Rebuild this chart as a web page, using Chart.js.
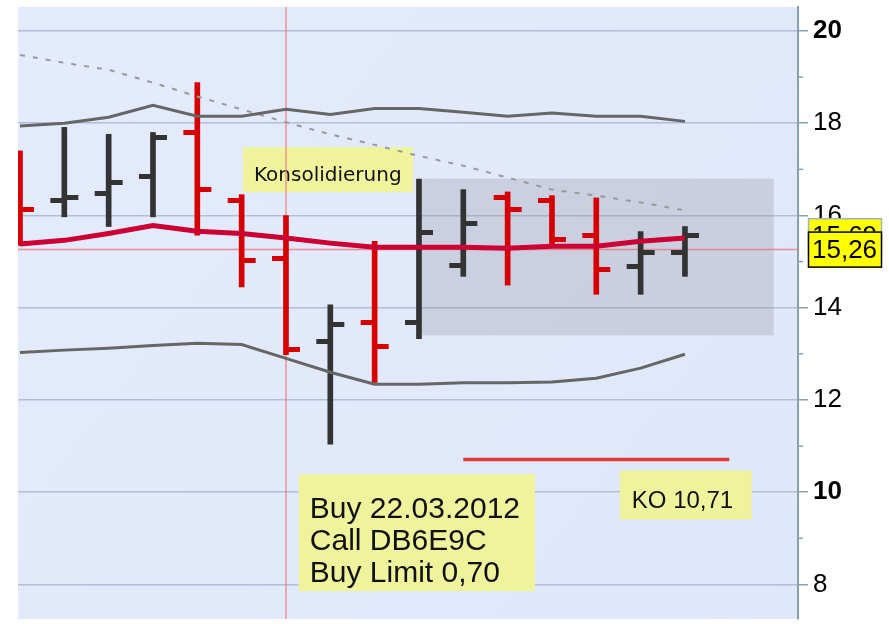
<!DOCTYPE html>
<html><head><meta charset="utf-8">
<script src="https://cdn.jsdelivr.net/npm/chart.js@4.4.1/dist/chart.umd.min.js"></script>
<style>html,body{margin:0;padding:0;background:#fff;}canvas{display:block}</style>
</head><body>
<canvas id="c" width="889" height="624"></canvas>
<script>
// ---- data ----
const opens  = [17.00, 16.32, 16.47, 16.84, 17.80, 16.32, 15.07, 13.26, 13.67, 13.67, 14.92, 16.40, 16.32, 15.57, 14.90, 15.20];
const highs  = [17.40, 17.91, 17.76, 17.80, 18.88, 16.45, 16.00, 14.06, 15.44, 16.79, 16.56, 16.51, 16.43, 16.38, 15.65, 15.76];
const lows   = [15.35, 15.97, 15.76, 15.97, 15.57, 14.45, 12.98, 11.04, 12.38, 13.33, 14.68, 14.49, 15.31, 14.29, 14.29, 14.68];
const closes = [16.13, 16.40, 16.71, 17.70, 16.56, 15.03, 13.09, 13.63, 13.15, 15.63, 15.82, 16.13, 15.48, 14.83, 15.20, 15.57];
const movingAvg = [15.38, 15.46, 15.61, 15.78, 15.66, 15.61, 15.51, 15.40, 15.31, 15.31, 15.31, 15.29, 15.33, 15.33, 15.44, 15.51];
const upperBand = [17.94, 18.00, 18.13, 18.39, 18.15, 18.15, 18.30, 18.19, 18.32, 18.32, 18.24, 18.15, 18.22, 18.15, 18.15, 18.04];
const lowerBand = [13.03, 13.08, 13.12, 13.18, 13.23, 13.20, 12.90, 12.60, 12.34, 12.34, 12.37, 12.37, 12.39, 12.47, 12.69, 12.99];
const longAvg   = [19.48, 19.31, 19.16, 18.88, 18.58, 18.30, 18.02, 17.76, 17.53, 17.29, 17.08, 16.82, 16.56, 16.43, 16.28, 16.11];
const yTickValues = [8, 10, 12, 14, 16, 18, 20];
const currentPrice = 15.26;
const signalIndex = 6;
const koLevel = 10.71;
const koRange = [10, 16];
const zoneX = [9, 17];
const zoneY = [13.40, 16.80];
const valueLabels = [{text: '15,69', value: 15.55}, {text: '15,26', value: 15.26}];
const noteKons = ['Konsolidierung'];
const noteBuy = ['Buy 22.03.2012', 'Call DB6E9C', 'Buy Limit 0,70'];
const noteKO = ['KO 10,71'];

// ---- styles ----
const RED = '#d70000', DARK = '#333333';
const idx = opens.map((_, i) => i);
const isDown = idx.map(i => closes[i] < opens[i]);
const barColors = idx.map(i => isDown[i] ? RED : DARK);

function tickImg(color, left) {
  const c = document.createElement('canvas');
  c.width = 30; c.height = 5;
  const g = c.getContext('2d');
  g.fillStyle = color;
  if (left) g.fillRect(1, 0, 15, 5); else g.fillRect(14, 0, 15, 5);
  return c;
}
const imgs = {oR: tickImg(RED, true), oD: tickImg(DARK, true), cR: tickImg(RED, false), cD: tickImg(DARK, false)};

const annotations = [
  {lines: noteKons, x: 5.03, y: 17.48, w: 170, h: 45, font: '20px "DejaVu Sans"', padX: 11, first: 34, lineH: 0},
  {lines: noteBuy, x: 6.29, y: 10.39, w: 236, h: 117, font: '30px "Liberation Sans"', padX: 11, first: 44, lineH: 32},
  {lines: noteKO, x: 13.53, y: 10.47, w: 132, h: 49, font: '24px "Liberation Sans"', padX: 12, first: 38, lineH: 0}
];

const bgPlugin = {
  id: 'bg',
  beforeDraw(chart) {
    const {ctx, chartArea: a} = chart;
    ctx.save();
    ctx.fillStyle = '#ffffff';
    ctx.fillRect(0, 0, chart.width, chart.height);
    const gr = ctx.createLinearGradient(a.left, a.top, a.right, a.bottom);
    gr.addColorStop(0, '#e3ebfc');
    gr.addColorStop(1, '#dfe7fa');
    ctx.fillStyle = gr;
    ctx.fillRect(a.left, a.top, a.right - a.left, a.bottom - a.top);
    ctx.restore();
  },
  beforeDatasetsDraw(chart) {
    const {ctx, chartArea: a, scales: {x, y}} = chart;
    ctx.save();
    ctx.beginPath();
    ctx.rect(a.left, a.top, a.right - a.left, a.bottom - a.top);
    ctx.clip();
    const x0 = x.getPixelForValue(zoneX[0]), x1 = x.getPixelForValue(zoneX[1]);
    const y0 = y.getPixelForValue(zoneY[1]), y1 = y.getPixelForValue(zoneY[0]);
    ctx.fillStyle = 'rgba(140,140,150,0.27)';
    ctx.fillRect(x0, y0, x1 - x0, y1 - y0);
    annotations.forEach(n => {
      const bx = x.getPixelForValue(n.x), by = y.getPixelForValue(n.y);
      ctx.fillStyle = '#eef39c';
      ctx.fillRect(bx, by, n.w, n.h);
      ctx.fillStyle = '#111';
      ctx.font = n.font;
      ctx.textBaseline = 'alphabetic';
      ctx.textAlign = 'left';
      n.lines.forEach((t, k) => ctx.fillText(t, bx + n.padX, by + n.first + k * n.lineH));
    });
    ctx.restore();
  },
  afterDraw(chart) {
    const {ctx, chartArea: a, scales: {y}} = chart;
    ctx.save();
    ctx.strokeStyle = '#87a0b4';
    ctx.lineWidth = 1.5;
    for (let v = 7; v <= 21; v += 2) {
      const py = y.getPixelForValue(v);
      if (py < a.top || py > a.bottom) continue;
      ctx.beginPath();
      ctx.moveTo(a.right, py);
      ctx.lineTo(a.right + 5, py);
      ctx.stroke();
    }
    valueLabels.forEach((l, k) => {
      const cy = y.getPixelForValue(l.value);
      const bx = a.right + 10, bw = 74, bh = 36;
      ctx.fillStyle = '#ffff00';
      ctx.fillRect(bx, cy - bh / 2, bw, bh);
      ctx.strokeStyle = k === valueLabels.length - 1 ? '#000' : '#9fb3c4';
      ctx.lineWidth = 1.5;
      ctx.strokeRect(bx + 0.5, cy - bh / 2 + 0.5, bw - 1, bh - 1);
      ctx.fillStyle = '#000';
      ctx.font = '26px "Liberation Sans"';
      ctx.textBaseline = 'middle';
      ctx.textAlign = 'left';
      ctx.fillText(l.text, bx + 4, cy + 1);
    });
    ctx.restore();
  }
};

const lineDs = (data, color, width, order, dash) => ({
  type: 'line',
  data: data.map((v, i) => ({x: i, y: v})),
  borderColor: color,
  borderWidth: width,
  borderDash: dash || [],
  pointRadius: 0,
  tension: 0,
  fill: false,
  clip: 0,
  order: order
});

new Chart(document.getElementById('c'), {
  type: 'bar',
  data: {
    datasets: [
      lineDs(movingAvg, '#cc0033', 5, 0),
      lineDs(upperBand, '#666666', 3, 1),
      lineDs(lowerBand, '#666666', 3, 1),
      lineDs(longAvg, '#9a9a9a', 2, 2, [5, 8]),
      {
        type: 'line', showLine: false, clip: 0, order: 3,
        data: idx.map(i => ({x: i, y: opens[i]})),
        pointStyle: idx.map(i => isDown[i] ? imgs.oR : imgs.oD),
        pointRadius: 3
      },
      {
        type: 'line', showLine: false, clip: 0, order: 3,
        data: idx.map(i => ({x: i, y: closes[i]})),
        pointStyle: idx.map(i => isDown[i] ? imgs.cR : imgs.cD),
        pointRadius: 3
      },
      {
        type: 'bar', order: 4, clip: 0,
        data: idx.map(i => ({x: i, y: [lows[i], highs[i]]})),
        backgroundColor: barColors,
        borderWidth: 0,
        barThickness: 5,
        grouped: false
      },
      {
        type: 'line', order: 5, clip: 0, pointRadius: 0,
        data: [{x: signalIndex, y: 0}, {x: signalIndex, y: 30}],
        borderColor: '#f27c7c', borderWidth: 1.2
      },
      {
        type: 'line', order: 6, clip: 0, pointRadius: 0,
        data: [{x: -5, y: currentPrice}, {x: 30, y: currentPrice}],
        borderColor: 'rgba(240,110,120,0.75)', borderWidth: 1.5
      },
      {
        type: 'line', order: 1, clip: 0, pointRadius: 0,
        data: [{x: koRange[0], y: koLevel}, {x: koRange[1], y: koLevel}],
        borderColor: '#e23838', borderWidth: 3.5
      }
    ]
  },
  options: {
    responsive: false,
    animation: false,
    devicePixelRatio: 1,
    events: [],
    layout: {padding: {left: 18, top: 7, right: 0, bottom: 0}},
    plugins: {legend: {display: false}, tooltip: {enabled: false}},
    scales: {
      x: {type: 'linear', min: -0.045, max: 17.55, offset: false, display: false},
      y: {
        type: 'linear', position: 'right', min: 7.25, max: 20.52,
        afterFit(s) { s.width = 91; s.paddingTop = 0; s.paddingBottom = 0; },
        afterBuildTicks(s) { s.ticks = yTickValues.map(v => ({value: v})); },
        border: {display: true, color: '#87a0b4', width: 2},
        grid: {color: '#b2bed8', lineWidth: 1.5, drawTicks: true, tickLength: 10, tickColor: '#87a0b4', tickWidth: 1.5},
        ticks: {
          padding: 5,
          color: '#000',
          font: (ctx) => ({family: '"Liberation Sans", Arial, sans-serif', size: 26, weight: (ctx.tick && ctx.tick.value % 10 === 0) ? 'bold' : 'normal'}),
          callback: (v) => String(v)
        }
      }
    }
  },
  plugins: [bgPlugin]
});
</script>
</body></html>
